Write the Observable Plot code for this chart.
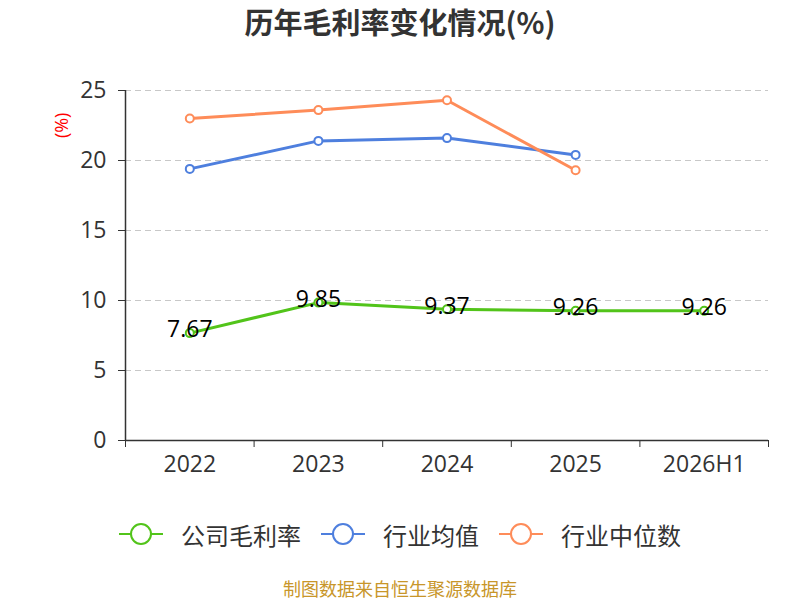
<!DOCTYPE html>
<html><head><meta charset="utf-8">
<script src="https://cdn.jsdelivr.net/npm/d3@7"></script>
<script src="https://cdn.jsdelivr.net/npm/@observablehq/plot@0.6"></script>
<style>
body{margin:0;width:800px;height:600px;background:#fff;font-family:"Noto Sans CJK SC","Noto Sans",sans-serif;overflow:hidden}
#title{height:45px;line-height:42px;text-align:center;font-size:29px;font-weight:bold;color:#333}
#legend{height:60px;display:flex;justify-content:center;align-items:center;gap:20px;font-size:24px;color:#333;margin-top:9px}
.item{display:flex;align-items:center;gap:18px}
#caption{text-align:center;font-size:18px;color:#c8962a;margin-top:11px}
</style></head>
<body>
<div id="title">历年毛利率变化情况(%)</div>
<div id="chart"></div>
<div id="legend"></div>
<div id="caption">制图数据来自恒生聚源数据库</div>
<script>
const categories = ["2022","2023","2024","2025","2026H1"];
const company = [7.67, 9.85, 9.37, 9.26, 9.26];
const industryMean = [19.4, 21.4, 21.6, 20.4];
const industryMedian = [23.0, 23.6, 24.3, 19.3];
const yTicks = [0,5,10,15,20,25];
const seriesNames = ["公司毛利率","行业均值","行业中位数"];
const colors = ["#52c41a","#4e7fde","#fe8c59"];

const rows = (vals, s) => vals.map((v,i)=>({i:i+0.5, cat:categories[i], v, s}));
const cData = rows(company, seriesNames[0]);
const mData = rows(industryMean, seriesNames[1]);
const dData = rows(industryMedian, seriesNames[2]);
const all = [...cData, ...mData, ...dData];
const numFont = '"Open Sans","Noto Sans",sans-serif';

const chart = Plot.plot({
  width: 800, height: 450,
  marginTop: 45, marginBottom: 55, marginLeft: 125, marginRight: 32,
  style: {fontFamily: numFont, background: "#fff"},
  x: {domain: [0, categories.length], axis: null},
  y: {domain: [0, 25], axis: null},
  color: {domain: seriesNames, range: colors},
  marks: [
    Plot.ruleY(yTicks.filter(d=>d>0), {stroke:"#c8c8c8", strokeDasharray:"6,4", strokeWidth:1.2}),
    Plot.axisY({ticks: yTicks, label: null, tickSize: 7, tickPadding: 12, fontSize: 23, color:"#333", stroke:"#333"}),
    Plot.ruleX([0], {stroke:"#333", strokeWidth:1.5}),
    Plot.ruleY([0], {stroke:"#333", strokeWidth:1.5}),
    Plot.axisX({ticks: d3.range(categories.length+1), label: null, tickFormat: ()=>"", tickSize: 7, stroke:"#333"}),
    Plot.axisX({ticks: categories.map((c,i)=>i+0.5), label: null, tickFormat: (d)=>categories[Math.floor(d)], tickSize: 0, tickPadding: 15, fontSize: 23, color:"#333"}),
    Plot.text(["(%)"], {frameAnchor:"left", y: 21.6, dx: -63, rotate: -90, fill:"red", fontSize:18}),
    Plot.line(all, {x:"i", y:"v", z:"s", stroke:"s", strokeWidth:3}),
    Plot.dot(all, {x:"i", y:"v", stroke:"s", fill:"white", r:4, strokeWidth:2}),
    Plot.text(cData, {x:"i", y:"v", text: d=>d.v.toFixed(2), dy:-3, fontSize:23, fill:"#000"})
  ]
});
document.getElementById("chart").appendChild(chart);

const lg = document.getElementById("legend");
seriesNames.forEach((n,k)=>{
  const it = document.createElement("div"); it.className="item";
  it.innerHTML = `<svg width="44" height="24"><line x1="0" y1="12" x2="44" y2="12" stroke="${colors[k]}" stroke-width="2"/><circle cx="22" cy="12" r="10" fill="#fff" stroke="${colors[k]}" stroke-width="2"/></svg><span>${n}</span>`;
  lg.appendChild(it);
});
</script>
</body></html>
